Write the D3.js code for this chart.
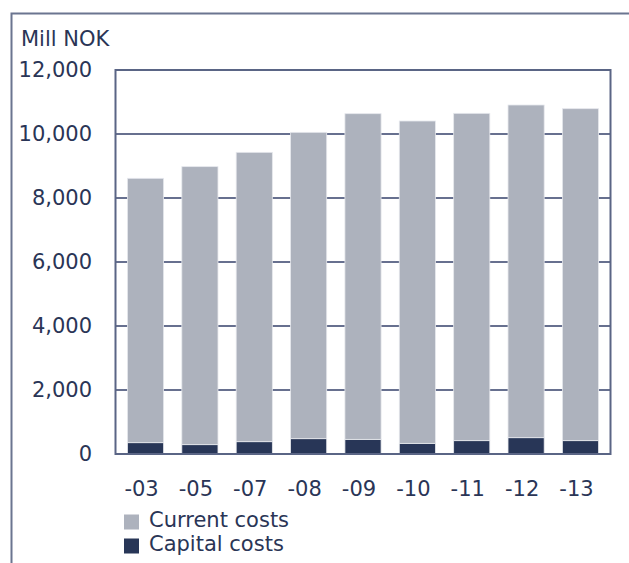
<!DOCTYPE html>
<html>
<head>
<meta charset="utf-8">
<script src="https://cdn.jsdelivr.net/npm/d3@7/dist/d3.min.js"></script>
<style>
  html, body { margin: 0; padding: 0; background: #fff; }
  svg { display: block; }
  text { font-family: "DejaVu Sans", Verdana, sans-serif; fill: #2a3556; }
</style>
</head>
<body>
<svg id="chart" width="629" height="563"></svg>
<script>
const categories = ["-03", "-05", "-07", "-08", "-09", "-10", "-11", "-12", "-13"];
const capitalCosts = [354, 292, 385, 479, 458, 333, 417, 510, 417];
const currentCosts = [8261, 8688, 9042, 9573, 10177, 10073, 10229, 10396, 10374];
const yTicks = [0, 2000, 4000, 6000, 8000, 10000, 12000];
const seriesNames = ["Current costs", "Capital costs"];
const seriesColors = ["#adb2bd", "#283657"];
const unitLabel = "Mill NOK";

const svg = d3.select("#chart");
const W = 629, H = 563;
const FS = 21;
const plot = { left: 115.5, right: 610.5, top: 70, bottom: 454 };

// outer frame
svg.append("path")
  .attr("d", `M11.5,${H} L11.5,13.5 L${W},13.5`)
  .attr("fill", "none").attr("stroke", "#6b7590").attr("stroke-width", 2);

const x = d3.scaleBand().domain(categories).range([plot.left, plot.right]).paddingInner(0.335).paddingOuter(0.22);
const y = d3.scaleLinear().domain([0, 12000]).range([plot.bottom, plot.top]);

// gridlines
svg.append("g").selectAll("line").data(yTicks).join("line")
  .attr("x1", plot.left).attr("x2", plot.right)
  .attr("y1", d => y(d)).attr("y2", d => y(d))
  .attr("stroke", "#34406a").attr("stroke-width", 1.5);

const stackData = categories.map((c, i) => ({ cat: c, capital: capitalCosts[i], current: currentCosts[i] }));
const stack = d3.stack().keys(["capital", "current"])(stackData);
const colorByKey = { capital: seriesColors[1], current: seriesColors[0] };

svg.append("g").selectAll("g").data(stack).join("g")
  .attr("fill", d => colorByKey[d.key])
  .selectAll("rect").data(d => d).join("rect")
  .attr("x", d => x(d.data.cat))
  .attr("width", x.bandwidth())
  .attr("y", d => y(d[1]))
  .attr("height", d => y(d[0]) - y(d[1]))
  .attr("stroke", "#e6e8ed").attr("stroke-width", 0.8);

// plot border
svg.append("rect")
  .attr("x", plot.left).attr("y", plot.top)
  .attr("width", plot.right - plot.left).attr("height", plot.bottom - plot.top)
  .attr("fill", "none").attr("stroke", "#5a6585").attr("stroke-width", 2);

// y axis labels
const yAxis = d3.axisLeft(y).tickValues(yTicks).tickSize(0).tickPadding(0)
  .tickFormat(d3.format(","));
const gy = svg.append("g").attr("transform", `translate(92,0)`).call(yAxis);
gy.select(".domain").remove();
gy.selectAll("text").attr("font-size", FS).style("font-family", "DejaVu Sans, Verdana, sans-serif").attr("fill", "#2a3556");

// x axis labels
const xAxis = d3.axisBottom(x).tickSize(0).tickPadding(0);
const gx = svg.append("g").attr("transform", `translate(-4,481)`).call(xAxis);
gx.select(".domain").remove();
gx.selectAll("text").attr("font-size", FS).style("font-family", "DejaVu Sans, Verdana, sans-serif").attr("fill", "#2a3556");

// unit label
svg.append("text").attr("x", 21).attr("y", 46).attr("font-size", FS).text(unitLabel);

// legend
const legend = svg.append("g");
seriesNames.forEach((name, i) => {
  const ly = 514.5 + i * 24;
  legend.append("rect").attr("x", 124).attr("y", ly).attr("width", 15).attr("height", 15)
    .attr("fill", seriesColors[i]);
  legend.append("text").attr("x", 149).attr("y", ly + 12.5).attr("font-size", FS).text(name);
});
</script>
</body>
</html>
